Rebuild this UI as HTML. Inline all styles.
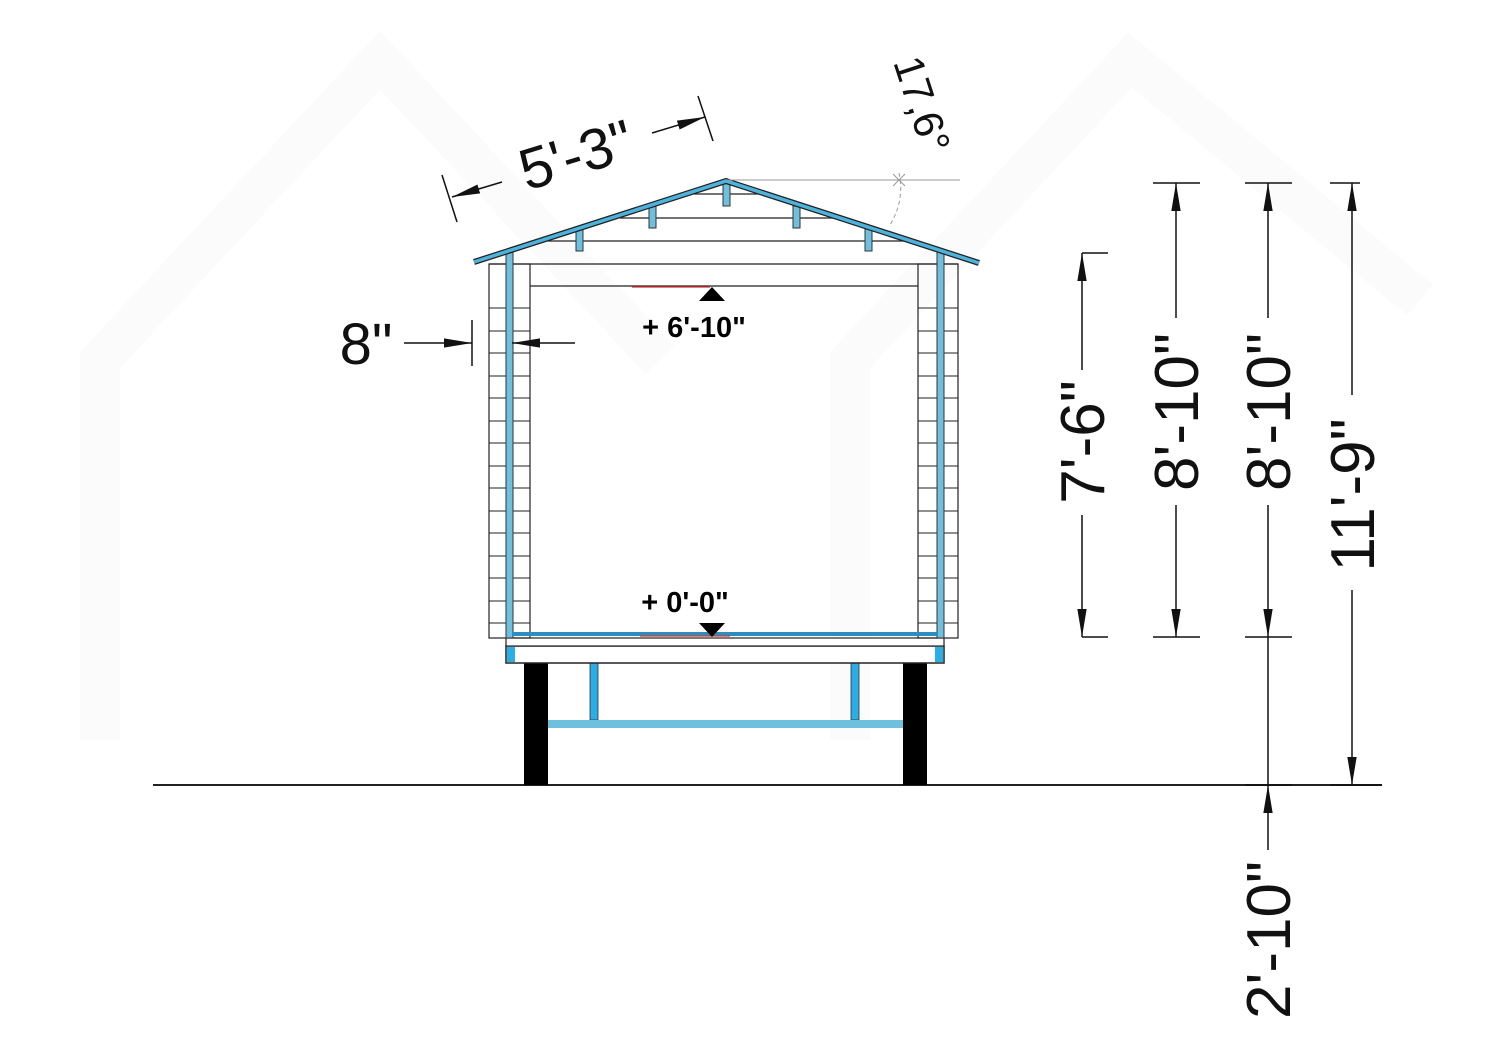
<!DOCTYPE html>
<html><head><meta charset="utf-8"><style>html,body{margin:0;padding:0;background:#fff}svg{display:block}text{font-family:"Liberation Sans",Arial,sans-serif}</style></head><body>
<svg width="1500" height="1060" viewBox="0 0 1500 1060" xmlns="http://www.w3.org/2000/svg">
<defs>
<marker id="b" viewBox="0 0 30 12" refX="30" refY="6" markerWidth="28" markerHeight="12" markerUnits="userSpaceOnUse" orient="auto"><path d="M0,1 L30,6 L0,11 z" fill="#111"/></marker>
</defs>
<g fill="none" stroke="#fbfbfb" stroke-width="40">
<path d="M100,740 L100,360 L380,60 L660,360"/><path d="M850,740 L850,360 L1130,60 L1420,300"/>
</g>
<line x1="153" y1="785" x2="1382" y2="785" stroke="#222" stroke-width="2"/>
<rect x="524" y="663" width="24" height="122" fill="#000"/>
<rect x="903" y="663" width="24" height="122" fill="#000"/>
<rect x="590" y="663" width="8" height="57" fill="#29aee6" stroke="#333" stroke-width="0.8"/>
<rect x="851" y="663" width="8" height="57" fill="#29aee6" stroke="#333" stroke-width="0.8"/>
<rect x="548" y="720" width="355" height="8" fill="#6ec0dc"/>
<rect x="506" y="646" width="438" height="17" fill="#fff" stroke="#222" stroke-width="1.5"/>
<rect x="507" y="647" width="8" height="15" fill="#29aee6"/>
<rect x="935" y="647" width="8" height="15" fill="#29aee6"/>
<rect x="506" y="638" width="438" height="8" fill="#fff" stroke="#222" stroke-width="1.2"/>
<g stroke="#222" stroke-width="1.2" fill="none">
<rect x="489" y="264" width="41" height="374"/>
<rect x="918" y="264" width="40" height="374"/>
<line x1="489" y1="264" x2="958" y2="264"/>
<line x1="530" y1="286" x2="918" y2="286"/>
</g>
<g stroke="#222" stroke-width="1">
<line x1="489" y1="308" x2="530" y2="308"/><line x1="918" y1="308" x2="958" y2="308"/>
<line x1="489" y1="331" x2="530" y2="331"/><line x1="918" y1="331" x2="958" y2="331"/>
<line x1="489" y1="353" x2="530" y2="353"/><line x1="918" y1="353" x2="958" y2="353"/>
<line x1="489" y1="376" x2="530" y2="376"/><line x1="918" y1="376" x2="958" y2="376"/>
<line x1="489" y1="398" x2="530" y2="398"/><line x1="918" y1="398" x2="958" y2="398"/>
<line x1="489" y1="421" x2="530" y2="421"/><line x1="918" y1="421" x2="958" y2="421"/>
<line x1="489" y1="443" x2="530" y2="443"/><line x1="918" y1="443" x2="958" y2="443"/>
<line x1="489" y1="466" x2="530" y2="466"/><line x1="918" y1="466" x2="958" y2="466"/>
<line x1="489" y1="488" x2="530" y2="488"/><line x1="918" y1="488" x2="958" y2="488"/>
<line x1="489" y1="511" x2="530" y2="511"/><line x1="918" y1="511" x2="958" y2="511"/>
<line x1="489" y1="533" x2="530" y2="533"/><line x1="918" y1="533" x2="958" y2="533"/>
<line x1="489" y1="556" x2="530" y2="556"/><line x1="918" y1="556" x2="958" y2="556"/>
<line x1="489" y1="578" x2="530" y2="578"/><line x1="918" y1="578" x2="958" y2="578"/>
<line x1="489" y1="601" x2="530" y2="601"/><line x1="918" y1="601" x2="958" y2="601"/>
<line x1="489" y1="623" x2="530" y2="623"/><line x1="918" y1="623" x2="958" y2="623"/>
</g>
<rect x="506" y="252" width="7" height="386" fill="#6ec0dc" stroke="#333" stroke-width="1"/>
<rect x="937" y="252" width="7" height="386" fill="#6ec0dc" stroke="#333" stroke-width="1"/>
<line x1="512" y1="634" x2="938" y2="634" stroke="#2a8fc0" stroke-width="4"/>
<line x1="640" y1="636" x2="730" y2="636" stroke="#d33" stroke-width="1.2"/>
<g stroke="#222" stroke-width="1.2">
<line x1="694" y1="194" x2="758" y2="194"/>
<line x1="620" y1="218" x2="834" y2="218"/>
<line x1="548" y1="241" x2="906" y2="241"/>
</g>
<g fill="#6ec0dc" stroke="#333" stroke-width="1">
<rect x="723" y="183" width="7" height="23"/>
<rect x="649" y="206" width="7" height="22"/><rect x="793" y="206" width="7" height="22"/>
<rect x="576" y="229" width="7" height="22"/><rect x="865" y="229" width="7" height="22"/>
</g>
<polyline points="474,262 726,181 979,263" fill="none" stroke="#222" stroke-width="6"/>
<polyline points="474,262 726,181 979,263" fill="none" stroke="#4db3dc" stroke-width="3.5"/>
<line x1="632" y1="287" x2="710" y2="287" stroke="#d33" stroke-width="1.2"/>
<path d="M699,301 L712,287 L725,301 z" fill="#000"/>
<text x="694" y="337" font-size="29" font-weight="bold" text-anchor="middle">+ 6'-10"</text>
<path d="M699,623 L712,637 L725,623 z" fill="#000"/>
<text x="685" y="612" font-size="29" font-weight="bold" text-anchor="middle">+ 0'-0"</text>
<g stroke="#999" stroke-width="1" fill="none">
<line x1="726" y1="180" x2="960" y2="180"/>
<path d="M899,173 Q905,200 890,225" stroke-dasharray="4,3"/>
<line x1="893" y1="174" x2="905" y2="186"/><line x1="905" y1="174" x2="893" y2="186"/>
</g>
<text transform="translate(893,62) rotate(72)" font-size="42" fill="#111">17,6°</text>
<g stroke="#111" stroke-width="1.5">
<line x1="442" y1="175" x2="457" y2="222"/>
<line x1="698" y1="96" x2="713" y2="141"/>
<line x1="502" y1="182" x2="452" y2="197" marker-end="url(#b)"/>
<line x1="652" y1="133" x2="705" y2="117" marker-end="url(#b)"/>
</g>
<text transform="translate(582,174) rotate(-17)" font-size="58" text-anchor="middle" fill="#111">5'-3"</text>
<text x="366" y="364" font-size="58" text-anchor="middle" fill="#111">8"</text>
<g stroke="#111" stroke-width="1.5">
<line x1="472" y1="320" x2="472" y2="366"/>
<line x1="404" y1="343" x2="472" y2="343" marker-end="url(#b)"/>
<line x1="575" y1="343" x2="512" y2="343" marker-end="url(#b)"/>
</g>
<g stroke="#111" stroke-width="1.5">
<line x1="1082" y1="253" x2="1108" y2="253"/><line x1="1082" y1="637" x2="1108" y2="637"/>
<line x1="1082" y1="370" x2="1082" y2="253" marker-end="url(#b)"/>
<line x1="1082" y1="515" x2="1082" y2="637" marker-end="url(#b)"/>
<line x1="1153" y1="183" x2="1200" y2="183"/><line x1="1153" y1="637" x2="1200" y2="637"/>
<line x1="1176" y1="318" x2="1176" y2="183" marker-end="url(#b)"/>
<line x1="1176" y1="505" x2="1176" y2="637" marker-end="url(#b)"/>
<line x1="1245" y1="183" x2="1292" y2="183"/><line x1="1245" y1="637" x2="1292" y2="637"/><line x1="1245" y1="785" x2="1292" y2="785"/>
<line x1="1268" y1="318" x2="1268" y2="183" marker-end="url(#b)"/>
<line x1="1268" y1="505" x2="1268" y2="637" marker-end="url(#b)"/>
<line x1="1268" y1="637" x2="1268" y2="785"/>
<line x1="1268" y1="850" x2="1268" y2="785" marker-end="url(#b)"/>
<line x1="1330" y1="183" x2="1360" y2="183"/><line x1="1330" y1="785" x2="1382" y2="785"/>
<line x1="1352" y1="395" x2="1352" y2="183" marker-end="url(#b)"/>
<line x1="1352" y1="590" x2="1352" y2="785" marker-end="url(#b)"/>
</g>
<g font-size="62" fill="#111" text-anchor="middle">
<text transform="translate(1104,442) rotate(-90)">7'-6"</text>
<text transform="translate(1198,412) rotate(-90)">8'-10"</text>
<text transform="translate(1290,412) rotate(-90)">8'-10"</text>
<text transform="translate(1374,495) rotate(-90)">11'-9"</text>
<text transform="translate(1290,940) rotate(-90)">2'-10"</text>
</g>
</svg>
</body></html>
